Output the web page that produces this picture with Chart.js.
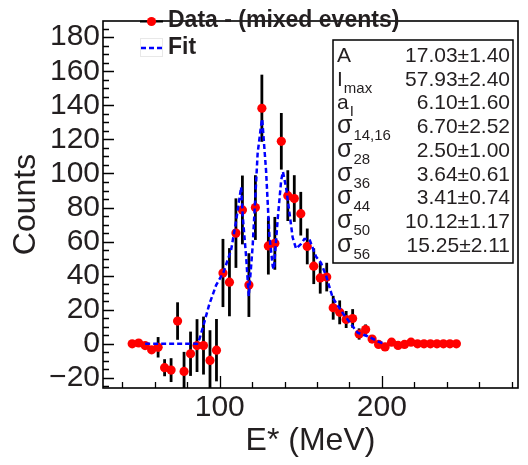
<!DOCTYPE html>
<html>
<head>
<meta charset="utf-8">
<script src="https://cdn.jsdelivr.net/npm/chart.js@4.4.0/dist/chart.umd.min.js"></script>
<style>
  html, body { margin: 0; padding: 0; background: #fff; }
</style>
</head>
<body>
<canvas id="myChart" width="528" height="465"></canvas>
<script>
// bin centres in MeV (4 MeV bins)
const energies = [46, 50, 54, 58, 62, 66, 70, 74, 78, 82, 86, 90, 94, 98, 102, 106, 110, 114, 118, 122,
                  126, 130, 134, 138, 142, 146, 150, 154, 158, 162, 166, 170, 174, 178, 182, 186, 190, 194, 198, 202,
                  206, 210, 214, 218, 222, 226, 230, 234, 238, 242, 246];
const counts = [0, 0.5, -1, -3.5, -2, -14, -15.4, 13.4, -16.2, -5.8, -1, -1, -9.7, -3.7, 41.6, 36.2, 65, 78.6, 34.5, 80,
                138.3, 57.5, 59, 118.9, 87, 85.3, 76.4, 57.2, 45.6, 38.7, 39.2, 21.2, 18.5, 14.3, 14.9, 5.8, 8.4, 2.8, -0.3, -1.8,
                1, -0.9, -0.3, 1, 0, 0, 0, 0, 0, 0, 0];
const errors = [0, 0, 0, 0, 6, 5, 7, 11, 11.5, 13, 15.5, 17, 17.7, 18.3, 20, 20, 20.4, 20.2, 18.7, 19,
                19.7, 16.8, 15.5, 16.6, 14.9, 13.7, 12.8, 10.5, 10.5, 9.2, 8.4, 7, 7, 5, 5.5, 3.3, 3, 1.5, 0, 0,
                0, 0, 0, 0, 0, 0, 0, 0, 0, 0, 0];

// fit curve as drawn
const fitEnergies = [54, 86, 87.5, 90, 93.6, 97.8, 102.3, 107, 110.1, 113.2, 114.2, 116.3, 117.9, 120.3, 122.4, 123.4,
                     125.5, 126.2, 128.6, 130.6, 132.7, 133.4, 135.8, 137.9, 139, 140.9, 143, 145, 147.1, 150.2, 152.2,
                     155.3, 159.4, 162.5, 165.6, 169.7, 176, 182, 185.1, 191.2, 198.5, 202];
const fitValues = [0, 0, 2.8, 11, 23.3, 34.5, 42, 55, 72, 92, 75, 51, 28, 57, 94, 112,
                   128, 132, 101.5, 64, 45.6, 43.8, 73.6, 96, 101, 92, 77, 62.4, 55.9, 58.7, 61.5,
                   61.5, 51.2, 47.5, 40, 27, 18, 10.3, 6.5, 4.5, 1, 0];

const xTickLabels = [100, 200];
const yTickLabels = [-20, 0, 20, 40, 60, 80, 100, 120, 140, 160, 180];

// fit parameters box
const statNames = [['A', ''], ['I', 'max'], ['a', 'I'], ['\u03c3', '14,16'], ['\u03c3', '28'],
                   ['\u03c3', '36'], ['\u03c3', '44'], ['\u03c3', '50'], ['\u03c3', '56']];
const statValues = ['17.03\u00b11.40', '57.93\u00b12.40', '6.10\u00b11.60', '6.70\u00b12.52', '2.50\u00b11.00',
                    '3.64\u00b10.61', '3.41\u00b10.74', '10.12\u00b11.17', '15.25\u00b12.11'];

const FONT = '"Liberation Sans", Arial, Helvetica, sans-serif';
const INK = '#231f20';
Chart.defaults.font.family = FONT;

// vertical error bars, drawn under the markers
const errorBars = {
    id: 'errorBars',
    beforeDatasetsDraw(chart) {
        const { ctx, chartArea: a, scales: { x, y } } = chart;
        ctx.save();
        ctx.beginPath();
        ctx.rect(a.left, a.top, a.right - a.left, a.bottom - a.top);
        ctx.clip();
        ctx.strokeStyle = '#000';
        ctx.lineWidth = 2.8;
        energies.forEach((e, i) => {
            if (!errors[i]) return;
            const px = x.getPixelForValue(e);
            ctx.beginPath();
            ctx.moveTo(px, y.getPixelForValue(counts[i] + errors[i]));
            ctx.lineTo(px, y.getPixelForValue(counts[i] - errors[i]));
            ctx.stroke();
        });
        ctx.restore();
    }
};

// ROOT style frame with ticks on the inside
const frameTicks = {
    id: 'frameTicks',
    afterDatasetsDraw(chart) {
        const { ctx, chartArea: a, scales: { x, y } } = chart;
        ctx.save();
        ctx.strokeStyle = '#000';
        ctx.lineWidth = 1.3;
        ctx.beginPath();
        for (let v = -25; v <= y.max; v += 5) {
            const py = Math.round(y.getPixelForValue(v)) + 0.5;
            const len = (v % 20 === 0) ? 11 : 6;
            ctx.moveTo(a.left, py);
            ctx.lineTo(a.left + len, py);
        }
        for (let v = 40; v <= x.max; v += 20) {
            const px = Math.round(x.getPixelForValue(v)) + 0.5;
            const len = (v % 100 === 0) ? 12 : 6;
            ctx.moveTo(px, a.bottom);
            ctx.lineTo(px, a.bottom - len);
        }
        ctx.stroke();
        ctx.lineWidth = 1.6;
        ctx.strokeRect(a.left, a.top, a.right - a.left, a.bottom - a.top);
        ctx.restore();
    }
};

// legend and fit parameter box
const boxes = {
    id: 'boxes',
    afterDraw(chart) {
        const ctx = chart.ctx;
        ctx.save();
        // legend
        ctx.strokeStyle = '#000';
        ctx.lineWidth = 2;
        ctx.beginPath();
        ctx.moveTo(140, 21.5);
        ctx.lineTo(163, 21.5);
        ctx.stroke();
        ctx.fillStyle = '#ff0000';
        ctx.beginPath();
        ctx.arc(151.5, 21.5, 4.6, 0, Math.PI * 2);
        ctx.fill();
        ctx.strokeStyle = '#e8e8e8';
        ctx.lineWidth = 1;
        ctx.strokeRect(140.5, 38.5, 22, 18);
        ctx.strokeStyle = '#0000ff';
        ctx.lineWidth = 2.5;
        ctx.setLineDash([5, 3]);
        ctx.beginPath();
        ctx.moveTo(141, 48);
        ctx.lineTo(163, 48);
        ctx.stroke();
        ctx.setLineDash([]);
        ctx.fillStyle = INK;
        ctx.font = 'bold 23px ' + FONT;
        ctx.textBaseline = 'alphabetic';
        ctx.textAlign = 'left';
        ctx.fillText('Data - (mixed events)', 168, 26.5);
        ctx.fillText('Fit', 168, 53.5);

        // stats box
        ctx.fillStyle = '#fff';
        ctx.fillRect(333, 40, 180, 223);
        ctx.strokeStyle = '#000';
        ctx.lineWidth = 1.5;
        ctx.strokeRect(333, 40, 180, 223);
        ctx.fillStyle = INK;
        statNames.forEach((n, i) => {
            const base = 62 + i * 23.7;
            ctx.textAlign = 'left';
            ctx.font = (n[0] === '\u03c3' ? '25px ' : '21px ') + FONT;
            ctx.fillText(n[0], 337, base);
            const w = ctx.measureText(n[0]).width;
            if (n[1]) {
                ctx.font = '15px ' + FONT;
                ctx.fillText(n[1], 337 + w + 1, base + 7);
            }
            ctx.font = '21px ' + FONT;
            ctx.textAlign = 'right';
            ctx.fillText(statValues[i], 510, base);
        });
        ctx.restore();
    }
};

const ctx = document.getElementById('myChart');
new Chart(ctx, {
    type: 'scatter',
    data: {
        datasets: [
            {
                label: 'Fit',
                data: fitEnergies.map((e, i) => ({ x: e, y: fitValues[i] })),
                showLine: true,
                borderColor: '#0000ff',
                borderWidth: 2.5,
                borderDash: [5, 3],
                pointRadius: 0,
                tension: 0,
                fill: false,
                order: 0
            },
            {
                label: 'Data - (mixed events)',
                data: energies.map((e, i) => ({ x: e, y: counts[i] })),
                backgroundColor: '#ff0000',
                borderColor: '#ff0000',
                borderWidth: 0,
                pointRadius: 4.6,
                order: 1
            }
        ]
    },
    options: {
        responsive: false,
        animation: false,
        devicePixelRatio: 1,
        layout: { padding: { top: 3, right: 10, left: 0, bottom: 0 } },
        plugins: { legend: { display: false }, tooltip: { enabled: false } },
        scales: {
            x: {
                type: 'linear',
                min: 28,
                max: 284,
                afterBuildTicks: s => { s.ticks = xTickLabels.map(v => ({ value: v })); },
                afterFit: s => { s.height = 77; },
                grid: { display: false, drawTicks: false },
                border: { display: false },
                ticks: { font: { size: 30 }, color: INK, padding: 2, maxRotation: 0, autoSkip: false },
                title: { display: true, text: 'E* (MeV)', font: { size: 32 }, color: INK, padding: { top: 0, bottom: 5 } }
            },
            y: {
                min: -25.9,
                max: 189.5,
                afterBuildTicks: s => { s.ticks = yTickLabels.map(v => ({ value: v })); },
                afterFit: s => { s.width = 103; },
                grid: { display: false, drawTicks: false },
                border: { display: false },
                ticks: {
                    font: { size: 30 }, color: INK, padding: 3, autoSkip: false,
                    callback: v => v < 0 ? '\u2212' + (-v) : String(v)
                },
                title: { display: true, text: 'Counts', font: { size: 32 }, color: INK, padding: { top: 7, bottom: 0 } }
            }
        }
    },
    plugins: [errorBars, frameTicks, boxes]
});
</script>
</body>
</html>
